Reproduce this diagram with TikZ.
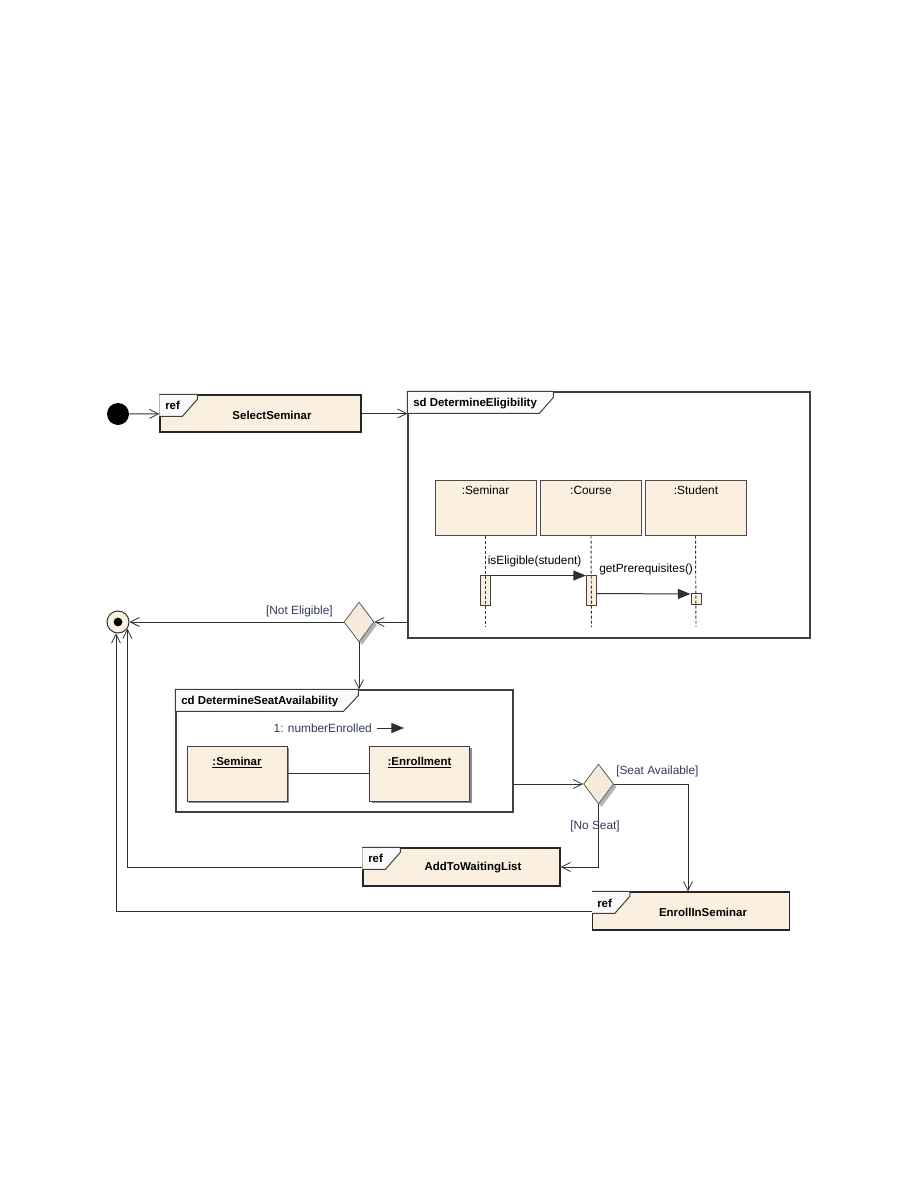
\documentclass[tikz,border=0pt]{standalone}
\usepackage{fontspec}
\setmainfont{Liberation Sans}
\usetikzlibrary{arrows.meta,shapes.geometric,shadows,calc}
\definecolor{obj}{HTML}{FBF0DF}
\definecolor{dia}{HTML}{F8EADB}
\definecolor{guardc}{HTML}{303A5A}
\definecolor{edgec}{HTML}{303030}
\definecolor{tabc}{HTML}{FAF9FC}
\begin{document}
\begin{tikzpicture}[x=0.75pt,y=-0.75pt,
  every node/.style={inner sep=0pt, font=\fontsize{8.9}{10}\selectfont},
  bold/.style={font=\fontsize{8.6}{10}\selectfont\bfseries},
  refbox/.style={draw=black!85, fill=obj, line width=1pt, minimum width=147.75pt, minimum height=28.5pt},
  frame/.style={draw=black!75, fill=white, line width=0.9pt},
  tab/.style={draw=black!75, fill=tabc, line width=0.75pt},
  lifehead/.style={draw=black!70, fill=obj, line width=0.75pt, minimum width=75.75pt, minimum height=41.25pt},
  actbar/.style={draw=black!75, fill=obj, line width=0.75pt, minimum width=7.5pt},
  objbox/.style={draw=black!75, fill=obj, line width=0.75pt, minimum width=75pt, minimum height=41.25pt,
     drop shadow={shadow xshift=1.5pt, shadow yshift=-1.5pt, fill=black!45, opacity=1}},
  decision/.style={diamond, draw=black!60, fill=dia, line width=0.6pt, minimum width=22.5pt, minimum height=30pt,
     drop shadow={shadow xshift=2.25pt, shadow yshift=-2.25pt, fill=black!30, opacity=1}},
  flow/.style={draw=edgec, line width=0.75pt, -{Straight Barb[length=6.75pt, width=6.75pt, line width=0.6pt]}},
  msgarrow/.style={draw=edgec, line width=0.75pt, -{Triangle[length=9.5pt, width=7.5pt]}},
  lifeline/.style={draw=black!80, line width=0.7pt, dash pattern=on 2.25pt off 1.5pt},
  guard/.style={text=guardc},
  plainline/.style={draw=edgec, line width=0.75pt}
]
\useasboundingbox (0,0) rectangle (918,1188);

% ---------- initial node and SelectSeminar
\node[circle, fill=black, minimum size=16.5pt] (init) at (118,414) {};
\node[refbox, minimum width=150.75pt, minimum height=27.75pt] (sel) at (260.5,413.5) {};
\draw[tab] (sel.north west) -- ++(38,0) -- ++(0,5) -- ++(-15,17) -- ++(-23,0);
\node[bold, anchor=west] (selRef) at (165,405) {ref};
\node[bold] (selT) at (272,415) {SelectSeminar};

% ---------- sd frame
\node[frame, minimum width=301.5pt, minimum height=184.5pt] (sd) at (609,515) {};
\draw[tab] (sd.north west) -- ++(146,0) -- ++(0,6) -- ++(-14,16) -- ++(-132,0) -- cycle;
\node[bold, anchor=west] (sdT) at (413,403.5) {sd DetermineEligibility};

\node[lifehead] (lSem) at (485.5,507.5) {};
\node[lifehead] (lCou) at (591,507.5) {};
\node[lifehead] (lStu) at (695.5,507.5) {};
\node (lSemT) at (485.5,490) {:Seminar};
\node (lCouT) at (591,490) {:Course};
\node (lStuT) at (696,490) {:Student};

\node[actbar, minimum height=22.5pt] (aSem) at (485.5,590) {};
\node[actbar, minimum height=22.5pt] (aCou) at (591.5,590) {};
\node[actbar, minimum height=8.25pt] (aStu) at (696,599) {};

\coordinate (eSem) at (485.5,627);
\coordinate (eCou) at (591.5,627);
\coordinate (eStu) at (696,627);
\draw[lifeline] (lSem.south) -- (eSem);
\draw[lifeline] (lCou.south) -- (eCou);
\draw[lifeline] (lStu.south) -- (eStu);

\draw[msgarrow] ($(aSem.north east)+(0,1)$) -- ($(aCou.north west)+(0,1)$);
\draw[msgarrow] ($(aCou.north east)+(0,19)$) -- ($(aStu.north west)+(0,1)$);
\node[anchor=west] (m1T) at (487.5,561) {isEligible(student)};
\node[anchor=west] (m2T) at (599,569.5) {getPrerequisites()};

% ---------- decision 1 and final node
\node[decision] (d1) at (359,622) {};
\node[circle, draw=black!80, fill=obj, line width=0.75pt, minimum size=16.5pt] (fin) at (118,622) {};
\node[circle, fill=black, minimum size=6.5pt] (finDot) at (fin) {};

\draw[flow] (sel.east) -- (sel.east -| sd.west);
\draw[flow] (init) -- (sel);
\draw[flow] (sd.west |- d1) -- (d1.east);
\draw[flow] (d1.west) -- (fin.east);
\node[guard, anchor=east] (neT) at (333,611) {[Not Eligible]};

% ---------- cd frame
\node[frame, minimum width=252.75pt, minimum height=91.5pt] (cd) at (344.5,751) {};
\draw[tab] (cd.north west) -- ++(183,0) -- ++(0,6) -- ++(-15,16) -- ++(-168,0) -- cycle;
\node[bold, anchor=west] (cdT) at (181,701.5) {cd DetermineSeatAvailability};
\draw[flow] (d1.south) -- (d1.south |- cd.north);

\node[guard, anchor=east] (neMsg) at (372,728) {1: numberEnrolled};
\coordinate (nmA) at (377,728);
\coordinate (nmB) at (404,728);
\draw[msgarrow] (nmA) -- (nmB);

\node[objbox] (oSem) at (237,773.5) {};
\node[objbox] (oEnr) at (419.5,773.5) {};
\node[bold] (oSemT) at (237,763) {\underline{:Seminar}};
\node[bold] (oEnrT) at (419.5,763) {\underline{:Enrollment}};
\draw[plainline] (oSem) -- (oEnr);

% ---------- decision 2, waiting list, enroll
\node[decision] (d2) at (598.5,784) {};
\node[refbox] (wait) at (461.5,867) {};
\draw[tab] (wait.north west) -- ++(38,0) -- ++(0,5) -- ++(-15,17) -- ++(-23,0);
\node[bold, anchor=west] (waitRef) at (368,858) {ref};
\node[bold] (waitT) at (473,868) {AddToWaitingList};

\node[refbox] (enr) at (691,911) {};
\draw[tab] (enr.north west) -- ++(38,0) -- ++(0,5) -- ++(-15,17) -- ++(-23,0);
\node[bold, anchor=west] (enrRef) at (597,903) {ref};
\node[bold] (enrT) at (703,912.5) {EnrollInSeminar};

\draw[flow] (cd.east |- d2) -- (d2.west);
\draw[flow] (d2.east) -| ([xshift=-2.25pt]enr.north);
\draw[flow] (d2.south) |- (wait.east);
\node[guard, anchor=west] (saT) at (616,771.5) {[Seat Available]};
\node[guard] (nsT) at (595,826) {[No Seat]};

\draw[flow] (wait.west) -| (fin.-35);
\draw[flow] (enr.west) -| (fin.-100);
\end{tikzpicture}
\end{document}
